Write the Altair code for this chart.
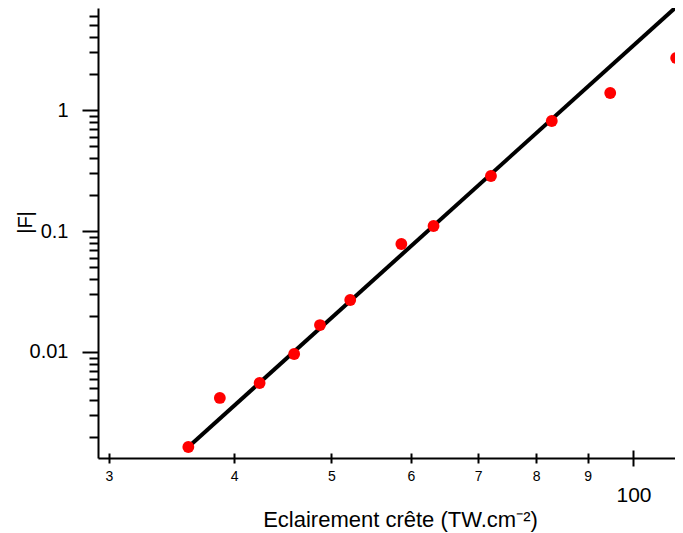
import altair as alt
import pandas as pd

# Measured points
INTENSITY = [36.0, 38.7, 42.4, 45.9, 48.7, 52.2, 58.7, 63.2, 72.1, 82.9, 94.8, 110.3]
F_ABS = [0.00164, 0.00417, 0.00554, 0.00963, 0.0167, 0.0269, 0.0781, 0.110, 0.285, 0.811, 1.382, 2.69]

# Power-law fit line endpoints
LINE_X = [36.0, 110.0]
LINE_Y = [0.00164, 6.97]

X_TICKS = [30, 40, 50, 60, 70, 80, 90, 100]
X_TICK_LABELS = ["3", "4", "5", "6", "7", "8", "9", "100"]
Y_TICKS = [0.002, 0.003, 0.004, 0.005, 0.006, 0.007, 0.008, 0.009,
           0.01, 0.02, 0.03, 0.04, 0.05, 0.06, 0.07, 0.08, 0.09,
           0.1, 0.2, 0.3, 0.4, 0.5, 0.6, 0.7, 0.8, 0.9,
           1, 2, 3, 4, 5, 6, 7]

pts = pd.DataFrame({"x": INTENSITY, "y": F_ABS})
line = pd.DataFrame({"x": LINE_X, "y": LINE_Y})

FONT = "Liberation Sans"
W, H = 577, 450

xscale = alt.Scale(type="log", domain=[29.26, 110], nice=False, zero=False)
yscale = alt.Scale(type="log", domain=[0.00133, 6.97], nice=False, zero=False)

x_label_expr = "''"
for v, lab in zip(X_TICKS, X_TICK_LABELS):
    x_label_expr = f"datum.value == {v} ? '{lab}' : ({x_label_expr})"

major_test = "datum.value == 100"
y_major_test = "abs(log(datum.value)/LN10 - round(log(datum.value)/LN10)) < 1e-6"

x_axis = alt.Axis(
    values=X_TICKS,
    labelExpr=x_label_expr,
    title="Eclairement crête (TW.cm⁻²)",
    titleFont=FONT, titleFontSize=22, titleFontWeight="normal", titleColor="black",
    titleX=302, titleY=68, titleBaseline="alphabetic", titleAlign="center",
    labelFont=FONT, labelColor="black",
    labelFontSize={"condition": {"test": major_test, "value": 21}, "value": 14},
    labelPadding={"condition": {"test": major_test, "value": 18}, "value": 6},
    tickSize={"condition": {"test": major_test, "value": 8}, "value": 5},
    tickWidth=2, tickColor="black",
    domainColor="black", domainWidth=2,
    grid=False, labelFlush=False, labelOverlap=False,
)

x_axis_inner = alt.Axis(
    orient="top", offset=-H,
    values=X_TICKS, labels=False, domain=False, title=None,
    tickSize={"condition": {"test": major_test, "value": 8}, "value": 5},
    tickWidth=2, tickColor="black", grid=False,
)

y_label_expr = f"({y_major_test}) ? format(datum.value, '~g') : ''"

y_axis = alt.Axis(
    values=Y_TICKS,
    labelExpr=y_label_expr,
    title="|F|",
    titleFont=FONT, titleFontSize=20, titleFontWeight="normal", titleColor="black",
    titleAngle=-90, titleX=-63, titleY=214, titleAlign="center", titleBaseline="bottom",
    labelFont=FONT, labelFontSize=20, labelColor="black", labelPadding=14,
    tickSize={"condition": {"test": f"!({y_major_test})", "value": 9}, "value": 16},
    tickWidth=2, tickColor="black",
    domainColor="black", domainWidth=2,
    grid=False, labelFlush=False, labelOverlap=False,
)

line_layer = alt.Chart(line).mark_line(color="black", strokeWidth=4, clip=True).encode(
    x=alt.X("x:Q", scale=xscale, axis=x_axis_inner),
    y=alt.Y("y:Q", scale=yscale, axis=y_axis),
)

pt_layer = alt.Chart(pts).mark_circle(color="#ff0000", opacity=1, size=140, clip=True).encode(
    x=alt.X("x:Q", scale=xscale, axis=x_axis),
    y=alt.Y("y:Q", scale=yscale, axis=y_axis),
)

chart = alt.layer(line_layer, pt_layer).resolve_axis(x="independent").properties(
    width=W, height=H,
    autosize=alt.AutoSizeParams(type="none"),
    padding={"left": 90, "top": 0, "right": 0, "bottom": 75},
).configure_view(stroke=None)

chart.save("out.html", embed_options={"renderer": "svg", "actions": False})
